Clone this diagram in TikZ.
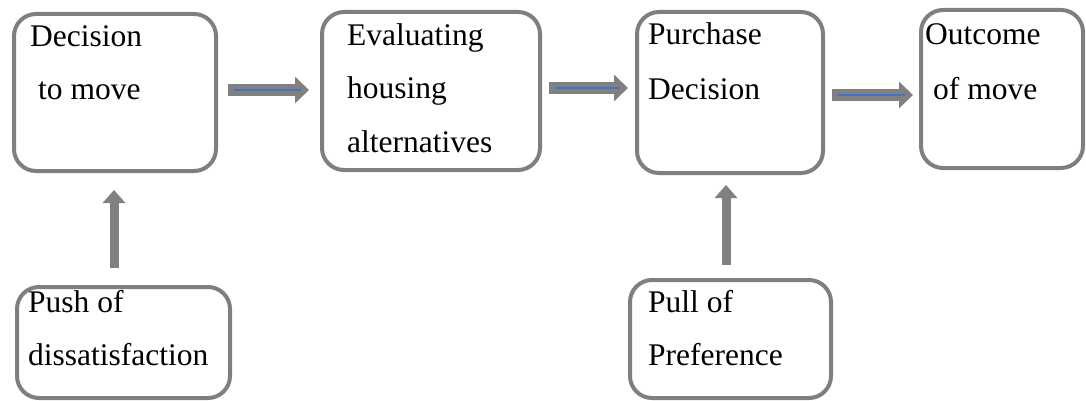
\documentclass[tikz,border=0pt]{standalone}
\usepackage{fontspec}
\setmainfont{Liberation Serif}
\usetikzlibrary{arrows.meta}
\definecolor{boxgray}{HTML}{7F7F7F}
\definecolor{arrgray}{HTML}{808080}
\definecolor{midblue}{HTML}{4472C4}
\tikzset{
  stagebox/.style={draw=boxgray, line width=4pt, rounded corners=22pt, rectangle, inner sep=0pt, fill=white},
  stagetext/.style={anchor=base west, inner sep=0pt, font=\fontsize{31.5}{53}\selectfont},
  flowarrow/.style={draw=arrgray, line width=12pt, -{Triangle[width=26pt,length=14pt]}},
  bluecore/.style={draw=midblue, line width=1.4pt},
  uparrow/.style={draw=arrgray, line width=9pt, -{Triangle[width=22pt,length=13pt]}}
}
\begin{document}
\begin{tikzpicture}[x=1pt,y=-1pt]
\useasboundingbox (0,0) rectangle (1086,401);
% boxes
\node[stagebox, minimum width=202pt, minimum height=157pt] (b1) at (115,92.5) {};
\node[stagebox, minimum width=218pt, minimum height=158pt] (b2) at (431,91) {};
\node[stagebox, minimum width=186pt, minimum height=161pt] (b3) at (730,92.5) {};
\node[stagebox, minimum width=162pt, minimum height=158pt] (b4) at (1002,89) {};
\node[stagebox, minimum width=213pt, minimum height=111pt] (b5) at (123.5,342.5) {};
\node[stagebox, minimum width=201pt, minimum height=118pt] (b6) at (730.5,339) {};
% texts
\node[stagetext] (t1a) at (30,47) {Decision};
\node[stagetext] (t1b) at (38,100) {to move};
\node[stagetext] (t2a) at (347,46) {Evaluating};
\node[stagetext] (t2b) at (347,99) {housing};
\node[stagetext] (t2c) at (347,153) {alternatives};
\node[stagetext] (t3a) at (648,45) {Purchase};
\node[stagetext] (t3b) at (648,100) {Decision};
\node[stagetext] (t4a) at (925,45) {Outcome};
\node[stagetext] (t4b) at (933,100) {of move};
\node[stagetext] (t5a) at (28,312) {Push of};
\node[stagetext] (t5b) at (28,365) {dissatisfaction};
\node[stagetext] (t6a) at (648,312) {Pull of};
\node[stagetext] (t6b) at (648,365) {Preference};
% horizontal arrows
\draw[flowarrow, shorten <=10pt, shorten >=11pt] ([yshift=2.5pt]b1.east) -- ([yshift=2.5pt]b1.east -| b2.west);
\draw[bluecore, shorten <=16pt, shorten >=19pt] ([yshift=2.5pt]b1.east) -- ([yshift=2.5pt]b1.east -| b2.west);
\draw[flowarrow, shorten <=7pt, shorten >=7pt] ([yshift=3pt]b2.east) -- ([yshift=3pt]b2.east -| b3.west);
\draw[bluecore, shorten <=13pt, shorten >=15pt] ([yshift=3pt]b2.east) -- ([yshift=3pt]b2.east -| b3.west);
\draw[flowarrow, shorten <=7pt, shorten >=6pt] ([yshift=-2.5pt]b3.east) -- ([yshift=-2.5pt]b3.east -| b4.west);
\draw[bluecore, shorten <=13pt, shorten >=14pt] ([yshift=-2.5pt]b3.east) -- ([yshift=-2.5pt]b3.east -| b4.west);
% vertical arrows
\draw[uparrow, shorten <=17pt, shorten >=17pt] ([xshift=-9.5pt]b5.north) -- ([xshift=-9.5pt]b5.north |- b1.south);
\draw[uparrow, shorten <=13pt, shorten >=10pt] ([xshift=-4.5pt]b6.north) -- ([xshift=-4.5pt]b6.north |- b3.south);
\end{tikzpicture}
\end{document}
